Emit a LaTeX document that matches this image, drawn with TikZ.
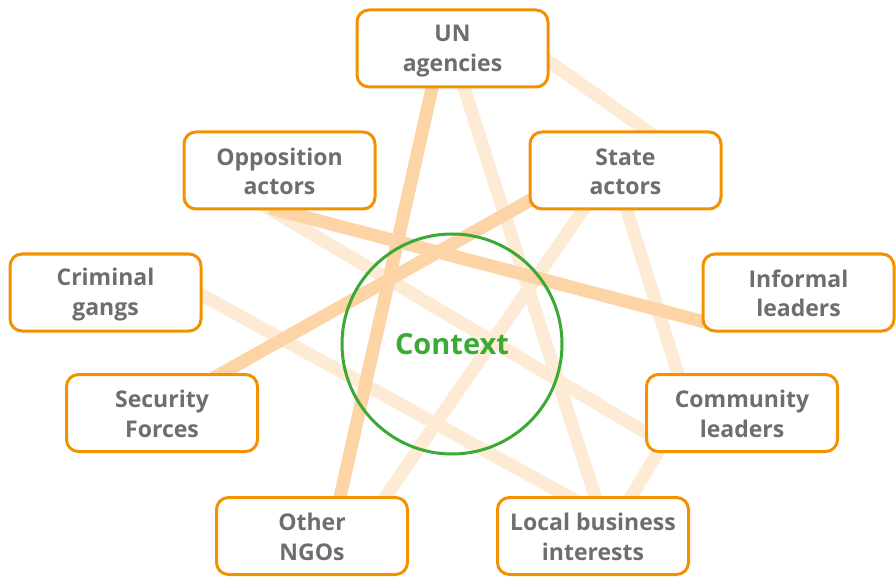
\documentclass[tikz,border=0pt]{standalone}
\usepackage{fontspec}
\setmainfont{Open Sans}
\usetikzlibrary{calc,backgrounds}
\definecolor{boxorange}{HTML}{F39200}
\definecolor{txtgray}{HTML}{6E6E6E}
\definecolor{ctxgreen}{HTML}{3AAA35}
\definecolor{strongorange}{HTML}{FDD4A5}
\definecolor{weakorange}{HTML}{FDEBD5}
\newcommand\tstrut{\rule{0pt}{22pt}}
\newcommand\bstrut{\rule[-3pt]{0pt}{3pt}}
\begin{document}
\begin{tikzpicture}[x=1pt,y=-1pt,
  actor/.style={draw=boxorange, line width=3pt, rounded corners=12pt, fill=white,
    minimum width=191pt, minimum height=77pt, align=center, text=txtgray,
    font=\fontsize{23}{29.5}\selectfont\bfseries, inner sep=0pt},
  strong/.style={draw=strongorange, line width=13pt},
  weak/.style={draw=weakorange, line width=13pt},
  ctxstyle/.style={circle, draw=ctxgreen, line width=3pt, minimum size=220pt, inner sep=0pt,
    text=ctxgreen, font=\fontsize{29}{32}\selectfont\bfseries}]
\useasboundingbox (0,0) rectangle (896,577);

\node[actor] (un) at (452.5,48.5) {\tstrut UN\\agencies\bstrut};
\node[actor] (opp) at (279.5,170.5) {\tstrut Opposition\\actors\bstrut};
\node[actor] (state) at (625.5,170.5) {\tstrut State\\actors\bstrut};
\node[actor] (gangs) at (105.5,292.5) {\tstrut Criminal\\gangs\bstrut};
\node[actor] (informal) at (798.5,292.5) {\tstrut Informal\\leaders\bstrut};
\node[actor] (security) at (162,413) {\tstrut Security\\Forces\bstrut};
\node[actor] (community) at (742,413) {\tstrut Community\\leaders\bstrut};
\node[actor] (ngos) at (312,536) {\tstrut Other\\NGOs\bstrut};
\node[actor] (biz) at (593,536) {\tstrut Local business\\interests\bstrut};

\node[ctxstyle] (ctx) at (452,344) {Context};

\begin{scope}[on background layer]
  % weak links
  \draw[weak] ($(un)+(67.5,-7.5)$) -- ($(state)+(34.5,-30.5)$);
  \draw[weak] ($(un)+(4.5,17.5)$) -- ($(biz)+(8,-21)$);
  \draw[weak] ($(opp)+(-19.5,32.5)$) -- ($(community)+(-77,31)$);
  \draw[weak] ($(state)+(-25.5,14.5)$) -- ($(ngos)+(63,-24)$);
  \draw[weak] ($(state)+(-5.5,17.5)$) -- ($(community)+(-58,-20)$);
  \draw[weak] ($(gangs)+(74.5,-9.5)$) -- ($(biz)+(-13,-33)$);
  \draw[weak] ($(community)+(-72,19)$) -- ($(biz)+(29,-24)$);
  % strong links
  \draw[strong] ($(un)+(-15.5,17.5)$) -- ($(ngos)+(24,-21)$);
  \draw[strong] ($(opp)+(-9.5,37.5)$) -- ($(informal)+(-78.5,33.5)$);
  \draw[strong] ($(state)+(-80.5,21.5)$) -- ($(security)+(48,-33)$);
\end{scope}
\end{tikzpicture}
\end{document}
